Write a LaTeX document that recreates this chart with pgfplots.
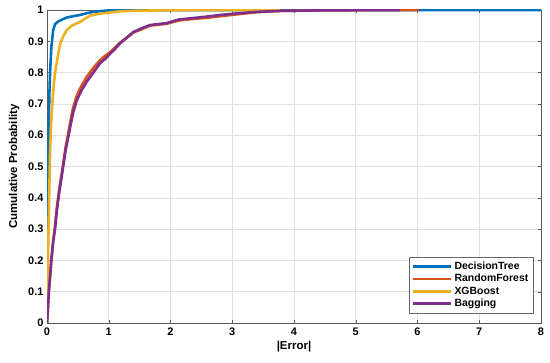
\documentclass[border=0pt]{standalone}
\usepackage{fontspec}
\setmainfont{Liberation Sans}
\usepackage{pgfplots}
\pgfplotsset{compat=1.18}
\definecolor{mblue}{rgb}{0,0.447,0.741}
\definecolor{morange}{rgb}{0.85,0.325,0.098}
\definecolor{myellow}{rgb}{0.929,0.694,0.125}
\definecolor{mpurple}{rgb}{0.494,0.184,0.556}
\begin{document}
\begin{tikzpicture}
\path[use as bounding box] (0,0) rectangle (550bp,363bp);
\begin{axis}[
  at={(47bp,40bp)}, anchor=south west,
  scale only axis, width=494bp, height=313bp,
  xmin=0, xmax=8, ymin=0, ymax=1,
  xtick={0,1,...,8},
  ytick={0,0.1,0.2,0.3,0.4,0.5,0.6,0.7,0.8,0.9,1},
  yticklabels={0,0.1,0.2,0.3,0.4,0.5,0.6,0.7,0.8,0.9,1},
  /pgf/number format/assume math mode=true,
  ticklabel style={font=\bfseries\fontsize{11}{13}\selectfont},
  xticklabel style={yshift=-1bp},
  xlabel={|Error|}, ylabel={Cumulative Probability},
  label style={font=\bfseries\fontsize{11.5}{13}\selectfont},
  xlabel style={yshift=1bp},
  ylabel style={yshift=2bp},
  grid=major, major grid style={gray!25, line width=0.6pt},
  axis line style={draw=black!65, line width=0.8pt},
  tick style={draw=black!65}, tick align=inside, major tick length=3bp,
  legend cell align=left,
  legend style={at={(rel axis cs:1,0)}, anchor=south east, xshift=-8bp, yshift=10bp,
    font=\bfseries\fontsize{10.5}{12}\selectfont, draw=black!60, row sep=-0.5pt,
    inner sep=2.5pt},
  legend image code/.code={\draw[#1, line width=2.6pt] (0bp,0bp) -- (38bp,0bp);},
  every axis plot/.append style={line width=2.6pt, line join=round},
]
\addplot[mblue] coordinates {(0,0) (0.005,0.1) (0.01,0.3) (0.02,0.5) (0.03,0.65) (0.04,0.74) (0.05,0.8) (0.07,0.88) (0.1,0.935) (0.13,0.955) (0.18,0.963) (0.25,0.97) (0.32,0.976) (0.42,0.98) (0.53,0.984) (0.65,0.99) (0.75,0.994) (0.9,0.997) (1.02,0.999) (1.5,1) (8,1)};
\addlegendentry{DecisionTree}
\addplot[morange] coordinates {(0,0) (0.01,0.03) (0.03,0.1) (0.07,0.2) (0.1,0.26) (0.13,0.31) (0.16,0.37) (0.2,0.43) (0.24,0.48) (0.3,0.56) (0.37,0.635) (0.42,0.685) (0.48,0.725) (0.55,0.755) (0.64,0.785) (0.75,0.815) (0.86,0.84) (0.95,0.855) (1.02,0.865) (1.1,0.88) (1.18,0.895) (1.3,0.913) (1.4,0.928) (1.55,0.94) (1.67,0.95) (1.8,0.953) (1.94,0.956) (2.05,0.962) (2.15,0.967) (2.4,0.972) (2.59,0.975) (2.8,0.98) (3.07,0.986) (3.4,0.993) (3.77,0.997) (4.5,0.999) (6.02,1)};
\addlegendentry{RandomForest}
\addplot[myellow] coordinates {(0,0) (0.01,0.15) (0.02,0.25) (0.03,0.35) (0.05,0.55) (0.07,0.65) (0.1,0.74) (0.13,0.8) (0.16,0.835) (0.21,0.89) (0.26,0.915) (0.32,0.936) (0.4,0.95) (0.48,0.957) (0.55,0.963) (0.6,0.97) (0.7,0.982) (0.85,0.988) (0.97,0.991) (1.18,0.996) (1.5,0.998) (2.0,0.999) (2.5,1) (3.77,1)};
\addlegendentry{XGBoost}
\addplot[mpurple] coordinates {(0,0) (0.01,0.03) (0.03,0.1) (0.07,0.2) (0.1,0.26) (0.13,0.3) (0.16,0.36) (0.2,0.42) (0.24,0.47) (0.3,0.55) (0.37,0.62) (0.42,0.67) (0.48,0.71) (0.55,0.74) (0.64,0.77) (0.75,0.8) (0.86,0.83) (0.95,0.845) (1.02,0.86) (1.1,0.875) (1.18,0.893) (1.3,0.913) (1.4,0.93) (1.55,0.943) (1.67,0.952) (1.8,0.955) (1.94,0.958) (2.05,0.965) (2.15,0.97) (2.4,0.975) (2.59,0.979) (2.8,0.984) (3.07,0.989) (3.4,0.994) (3.77,0.997) (4.5,0.999) (5.72,1)};
\addlegendentry{Bagging}
\end{axis}
\end{tikzpicture}
\end{document}
